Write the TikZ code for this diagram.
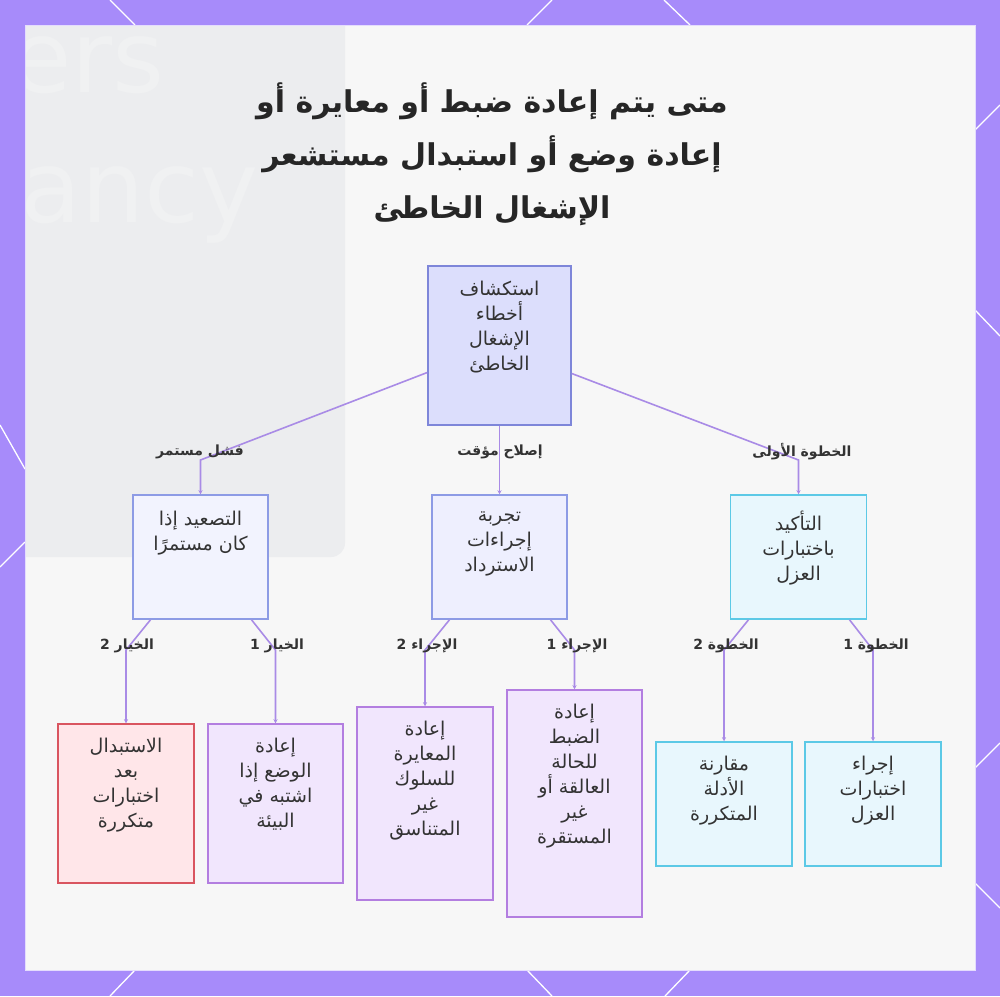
\documentclass[tikz,border=0pt]{standalone}
\usepackage{fontspec}
\setmainfont{DejaVu Sans}
\newfontfamily\arabicfont[Script=Arabic]{DejaVu Sans}
\TeXXeTstate=1
\usetikzlibrary{arrows.meta}
\definecolor{framepurple}{HTML}{A78BFA}
\definecolor{panelbg}{HTML}{F7F7F7}
\definecolor{graybg}{HTML}{ECEDEF}
\definecolor{txtcol}{HTML}{333333}
\definecolor{edgecol}{HTML}{A98BE6}
\definecolor{rootfill}{HTML}{DCDEFC}
\definecolor{rootdraw}{HTML}{7E86D9}
\definecolor{bluefill}{HTML}{F2F3FE}
\definecolor{bluedraw}{HTML}{8D9BE5}
\definecolor{cyanfill}{HTML}{E8F7FD}
\definecolor{cyandraw}{HTML}{5CC9E6}
\definecolor{purpfill}{HTML}{F1E6FD}
\definecolor{purpdraw}{HTML}{B37EE0}
\definecolor{redfill}{HTML}{FFE6E9}
\definecolor{reddraw}{HTML}{D95560}
\newcommand{\artxt}[1]{\beginR #1\endR}
\begin{document}
\begin{tikzpicture}[x=1pt,y=-1pt,
  boxbase/.style={rectangle, line width=1.5pt, inner sep=0pt},
  rootbox/.style={boxbase, fill=rootfill, draw=rootdraw, minimum width=143pt, minimum height=159pt},
  bluebox/.style={boxbase, fill=bluefill, draw=bluedraw, minimum width=135pt, minimum height=124pt},
  cyanbox/.style={boxbase, fill=cyanfill, draw=cyandraw, minimum width=136pt, minimum height=124pt},
  purpbox/.style={boxbase, fill=purpfill, draw=purpdraw, minimum width=136pt},
  redbox/.style={boxbase, fill=redfill, draw=reddraw, minimum width=136pt, minimum height=159pt},
  boxtxt/.style={anchor=north, align=center, text=txtcol, inner sep=0pt,
     font=\arabicfont\fontsize{19}{25}\selectfont},
  edgelbl/.style={text=txtcol, inner sep=1pt, font=\arabicfont\bfseries\fontsize{14}{16}\selectfont},
  edge/.style={draw=edgecol, line width=1.6pt, -{Stealth[length=4pt,width=4pt]}},
  framelin/.style={draw=white, line width=1.3pt}
]
\useasboundingbox (0,0) rectangle (1000,996);
% frame
\fill[framepurple] (0,0) rectangle (1000,996);
\draw[framelin] (110,0)--(135,25) (552,0)--(527,25) (664,0)--(690,25);
\draw[framelin] (135,970)--(110,996) (527,970)--(552,996) (690,970)--(665,996);
\draw[framelin] (0,425)--(25,469) (25,542)--(0,567);
\draw[framelin] (975,130)--(1000,105) (975,310)--(1000,336) (975,768)--(1000,743) (975,883)--(1000,908);
\fill[panelbg] (25,25) rectangle (975,970);
\draw[white!70!framepurple, line width=0.8pt] (25,25) rectangle (975,970);
% faded background
\begin{scope}
\clip (26,26) rectangle (345,557);
\fill[graybg, rounded corners=14pt] (10,10) rectangle (345,557);
\node[anchor=base west, text=white!20!graybg, inner sep=0pt,
  font=\fontsize{100}{100}\selectfont] (wm1) at (10,92) {ers};
\node[anchor=base west, text=white!20!graybg, inner sep=0pt,
  font=\fontsize{100}{100}\selectfont] (wm2) at (20,222) {ancy};
\end{scope}
% title
\node[align=center, text=black!85, inner sep=0pt,
  font=\arabicfont\bfseries\fontsize{30}{53}\selectfont] (title) at (492,154)
  {\artxt{متى يتم إعادة ضبط أو معايرة أو}\\
   \artxt{إعادة وضع أو استبدال مستشعر}\\
   \artxt{الإشغال الخاطئ}};
% root
\node[rootbox] (root) at (499.5,345.5) {};
\node[boxtxt] (roott) at ([yshift=-16pt]root.north)
  {\artxt{استكشاف}\\ \artxt{أخطاء}\\ \artxt{الإشغال}\\ \artxt{الخاطئ}};
% level 2
\node[bluebox] (esc) at (200.5,557) {};
\node[boxtxt] (esct) at ([yshift=-17pt]esc.north)
  {\artxt{التصعيد إذا}\\ \artxt{كان مستمرًا}};
\node[bluebox, fill=bluefill!80!rootfill] (rec) at (499.5,557) {};
\node[boxtxt] (rect) at ([yshift=-17pt]rec.north)
  {\artxt{تجربة}\\ \artxt{إجراءات}\\ \artxt{الاسترداد}};
\node[cyanbox] (conf) at (798.5,557) {};
\node[boxtxt] (conft) at ([yshift=-17pt]conf.north)
  {\artxt{التأكيد}\\ \artxt{باختبارات}\\ \artxt{العزل}};
% level 3
\node[redbox] (repl) at (126,803.5) {};
\node[boxtxt] (replt) at ([yshift=-15pt]repl.north)
  {\artxt{الاستبدال}\\ \artxt{بعد}\\ \artxt{اختبارات}\\ \artxt{متكررة}};
\node[purpbox, minimum width=135pt, minimum height=159pt] (repos) at (275.5,803.5) {};
\node[boxtxt] (repost) at ([yshift=-15pt]repos.north)
  {\artxt{إعادة}\\ \artxt{الوضع إذا}\\ \artxt{اشتبه في}\\ \artxt{البيئة}};
\node[purpbox, minimum height=193pt] (recal) at (425,803.5) {};
\node[boxtxt] (recalt) at ([yshift=-15pt]recal.north)
  {\artxt{إعادة}\\ \artxt{المعايرة}\\ \artxt{للسلوك}\\ \artxt{غير}\\ \artxt{المتناسق}};
\node[purpbox, minimum width=135pt, minimum height=227pt] (reset) at (574.5,803.5) {};
\node[boxtxt] (resett) at ([yshift=-15pt]reset.north)
  {\artxt{إعادة}\\ \artxt{الضبط}\\ \artxt{للحالة}\\ \artxt{العالقة أو}\\ \artxt{غير}\\ \artxt{المستقرة}};
\node[cyanbox] (cmp) at (724,804) {};
\node[boxtxt] (cmpt) at ([yshift=-15pt]cmp.north)
  {\artxt{مقارنة}\\ \artxt{الأدلة}\\ \artxt{المتكررة}};
\node[cyanbox] (iso) at (873,804) {};
\node[boxtxt] (isot) at ([yshift=-15pt]iso.north)
  {\artxt{إجراء}\\ \artxt{اختبارات}\\ \artxt{العزل}};
% edges level 1
\draw[edge] ([yshift=-27pt]root.west) -- (esc.north |- 0,460) -- (esc.north);
\draw[edge] (root.south) -- (rec.north);
\draw[edge] ([yshift=-28pt]root.east) -- (conf.north |- 0,460) -- (conf.north);
% edges level 2
\draw[edge] ([xshift=-50pt]esc.south) -- (repl.north |- 0,650) -- (repl.north);
\draw[edge] ([xshift=51pt]esc.south) -- (repos.north |- 0,650) -- (repos.north);
\draw[edge] ([xshift=-50pt]rec.south) -- (recal.north |- 0,650) -- (recal.north);
\draw[edge] ([xshift=51pt]rec.south) -- (reset.north |- 0,650) -- (reset.north);
\draw[edge] ([xshift=-50pt]conf.south) -- (cmp.north |- 0,650) -- (cmp.north);
\draw[edge] ([xshift=51pt]conf.south) -- (iso.north |- 0,650) -- (iso.north);
% labels
\node[edgelbl] (l1) at (200,452) {\artxt{فشل مستمر}};
\node[edgelbl] (l2) at (500,452) {\artxt{إصلاح مؤقت}};
\node[edgelbl] (l3) at (802,452) {\artxt{الخطوة الأولى}};
\node[edgelbl] (l4) at (127,646) {\artxt{الخيار 2}};
\node[edgelbl] (l5) at (277,646) {\artxt{الخيار 1}};
\node[edgelbl] (l6) at (427,646) {\artxt{الإجراء 2}};
\node[edgelbl] (l7) at (577,646) {\artxt{الإجراء 1}};
\node[edgelbl] (l8) at (726,646) {\artxt{الخطوة 2}};
\node[edgelbl] (l9) at (876,646) {\artxt{الخطوة 1}};
\end{tikzpicture}
\end{document}
